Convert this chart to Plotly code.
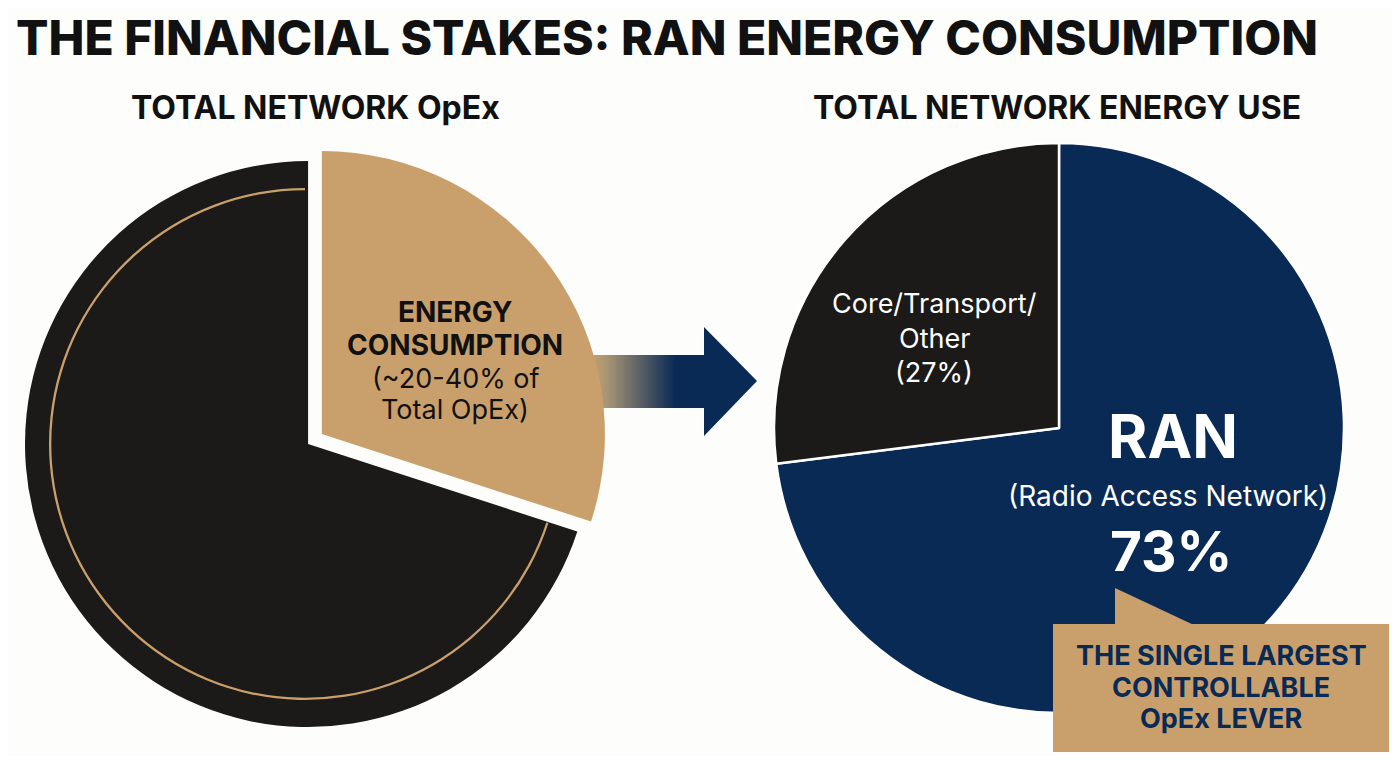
import plotly.graph_objects as go

# Data
opex_labels = ["Energy Consumption", "Other OpEx"]
opex_share = [30, 70]          # tan wedge is roughly 30% of the circle
energy_labels = ["RAN", "Core/Transport/Other"]
energy_share = [73, 27]

# page has an 8px body margin, so the figure is drawn 8px in from the window edge
PAD = 8
W, H = 1400 - 2 * PAD, 764 - 2 * PAD
TAN = "#C9A06C"
NAVY = "#0A2A56"
BLACK = "#1B1A19"
BG = "#FDFDFB"
FONT = "Inter"


def box(cx, cy, r):
    # circle in window pixels -> paper domain
    x0, x1 = (cx - r - PAD) / W, (cx + r - PAD) / W
    y0, y1 = 1 - (cy + r - PAD) / H, 1 - (cy - r - PAD) / H
    return dict(x=[max(0, x0), min(1, x1)], y=[max(0, y0), min(1, y1)])


fig = go.Figure()

# arrow between the pies (window pixel coordinates)
arrow_x = [580, 704, 704, 757, 704, 704, 580, 580]
arrow_y = [355, 355, 327, 381, 436, 408, 408, 355]
fig.add_trace(go.Scatter(
    x=arrow_x, y=arrow_y, mode="lines", fill="toself",
    line=dict(width=0, color=NAVY),
    fillgradient=dict(type="horizontal", start=590, stop=675,
                      colorscale=[[0, TAN], [0.2, "#A89474"], [1, NAVY]]),
    hoverinfo="skip", showlegend=False,
))

# left pie: total OpEx
pull = 0.06
fig.add_trace(go.Pie(
    labels=opex_labels, values=opex_share, sort=False,
    direction="clockwise", rotation=0, pull=[pull, 0],
    marker=dict(colors=[TAN, BLACK], line=dict(width=0)),
    textinfo="none", hoverinfo="label+percent",
    domain=box(305, 444, 286 * (1 + pull)), showlegend=False,
))
# thin tan ring inside the black part
fig.add_trace(go.Pie(
    labels=opex_labels, values=opex_share, sort=False,
    direction="clockwise", rotation=0, hole=0.991,
    marker=dict(colors=["rgba(0,0,0,0)", TAN], line=dict(width=0)),
    textinfo="none", hoverinfo="skip",
    domain=box(305, 444, 256), showlegend=False,
))

# right pie: network energy use
fig.add_trace(go.Pie(
    labels=energy_labels, values=energy_share, sort=False,
    direction="clockwise", rotation=0,
    marker=dict(colors=[NAVY, BLACK], line=dict(width=2.5, color="white")),
    textinfo="none", hoverinfo="label+percent",
    domain=box(1059, 428, 285), showlegend=False,
))

# callout box
fig.add_shape(type="path", path="M 1115 588 L 1115 626 L 1196 626 Z",
              xref="x", yref="y", fillcolor=TAN, line=dict(width=0), layer="above")
fig.add_shape(type="rect", x0=1053, x1=1389, y0=624, y1=752,
              xref="x", yref="y", fillcolor=TAN, line=dict(width=0), layer="above")


def txt(x, y, s, size, color, weight="normal", xanchor="center"):
    fig.add_annotation(x=x, y=y, xref="x", yref="y", text=s, showarrow=False,
                       xanchor=xanchor, yanchor="middle",
                       font=dict(family=FONT, size=size, color=color, weight=weight))


txt(14, 37, "THE FINANCIAL STAKES: RAN ENERGY CONSUMPTION", 48, "#111111", 800, "left")
txt(315, 107, "TOTAL NETWORK OpEx", 32, "#111111", "bold")
txt(1057, 107, "TOTAL NETWORK ENERGY USE", 32, "#111111", "bold")

txt(455, 312, "ENERGY", 28, "#111111", "bold")
txt(455, 345, "CONSUMPTION", 28, "#111111", "bold")
txt(455, 378, "(~20-40% of", 27, "#111111")
txt(455, 409, "Total OpEx)", 27, "#111111")

txt(934, 303, "Core/Transport/", 27, "white")
txt(934, 338, "Other", 27, "white")
txt(934, 372, f"({energy_share[1]}%)", 27, "white")

txt(1173, 436, energy_labels[0], 60, "white", "bold")
txt(1168, 496, "(Radio Access Network)", 28, "white")
txt(1171, 551, f"{energy_share[0]}%", 55, "white", "bold")

txt(1221, 655, "THE SINGLE LARGEST", 27, NAVY, "bold")
txt(1221, 687, "CONTROLLABLE", 27, NAVY, "bold")
txt(1221, 718, "OpEx LEVER", 27, NAVY, "bold")

fig.update_layout(
    width=W, height=H,
    margin=dict(l=0, r=0, t=0, b=0),
    paper_bgcolor=BG, plot_bgcolor=BG,
    xaxis=dict(range=[PAD, PAD + W], visible=False, fixedrange=True),
    yaxis=dict(range=[PAD + H, PAD], visible=False, fixedrange=True),
)

fig.write_html("out.html")
